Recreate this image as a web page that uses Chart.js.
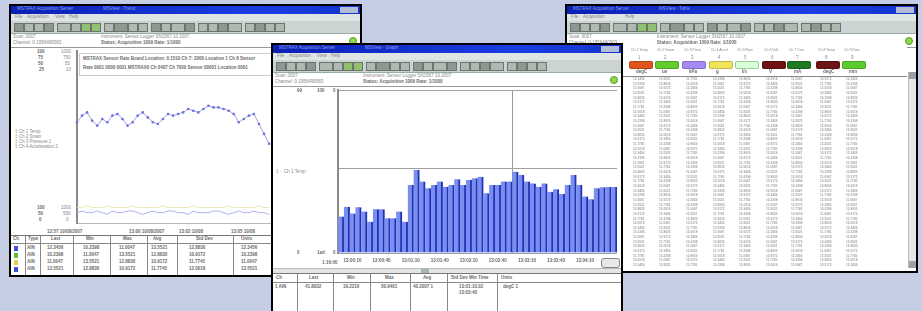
<!DOCTYPE html>
<html>
<head>
<meta charset="utf-8">
<script src="https://cdn.jsdelivr.net/npm/chart.js@4.4.1/dist/chart.umd.min.js"></script>
<style>
  body { margin: 0; width: 922px; height: 311px; background: #c6cee6; overflow: hidden; position: relative;
         font-family: "Liberation Sans", Arial, sans-serif; }
  #stage { position: absolute; left: 0; top: 0; width: 922px; height: 311px; filter: blur(0.6px); }
  .win { position: absolute; background: #fff; border: 2px solid #000; overflow: hidden; }
  .title { position: absolute; left: 0; right: 0; top: 0; height: 8px; background: linear-gradient(90deg, #0b20b4, #1a3ee2 70%, #1434cc); }
  .title span { position: absolute; top: 1px; font-size: 4.5px; color: #8f9ee8; white-space: nowrap; line-height: 1; }
  .title .btns { position: absolute; right: 2px; top: 1px; width: 18px; height: 6px; background: #b4bcd6; }
  .menu { position: absolute; left: 0; right: 0; top: 8px; height: 7px; background: #dfe4e4; }
  .menu span { position: absolute; top: 1px; font-size: 4.5px; color: #888; line-height: 1; }
  .tool { position: absolute; left: 0; right: 0; top: 15px; height: 12px; background: #cbd4d2; border-bottom: 1px solid #9aa; }
  .tb { position: absolute; top: 2px; height: 7px; border: 1px solid #6c7470; }
  .info { position: absolute; left: 0; right: 0; top: 28px; height: 13px; background: #fff; border-bottom: 1px solid #999; }
  .t { position: absolute; font-size: 4.5px; color: #888; white-space: nowrap; line-height: 1; }
  .b { font-weight: bold; color: #6a6a6a; }
  .dot { position: absolute; width: 6px; height: 6px; border-radius: 50%; background: #8fd848; border: 1px solid #5a9a30; }
  .box { position: absolute; }
  .vl { position: absolute; width: 1px; background: #888; }
  .hl { position: absolute; height: 1px; background: #888; }
</style>
</head>
<body>
<div id="stage">

  <!-- left window: trend view -->
  <div class="win" id="winLeft" style="left:9px; top:4px; width:349px; height:269px; z-index:1;">
    <div class="title"><span style="left:6px;">MSTRAX Acquisition Server</span><span style="left:92px;">MSView - Trend</span><div class="btns"></div></div>
    <div class="menu"><span style="left:4px;">File</span><span style="left:16px;">Acquisition</span><span style="left:44px;">View</span><span style="left:58px;">Help</span></div>
    <div class="tool" id="toolLeft"></div>
    <div class="info">
      <span class="t" style="left:2px; top:1px;">Scan: 0007</span>
      <span class="t" style="left:2px; top:7px;">Channel: 0-1956490583</span>
      <span class="t" style="left:90px; top:1px;">Instrument: Sensor Logger SN1567 10 2007</span>
      <span class="t b" style="left:90px; top:7px;">Status: Acquisition 1009  Rate: 1/1000</span>
      <div class="dot" style="left:338px; top:3px;"></div>
    </div>
    <span class="t b" style="left:26px; top:44px;">100</span><span class="t" style="left:50px; top:44px;">1000</span>
    <span class="t b" style="left:27px; top:50px;">75</span><span class="t" style="left:52px; top:50px;">750</span>
    <span class="t b" style="left:27px; top:56px;">50</span><span class="t" style="left:54px; top:56px;">50</span>
    <span class="t b" style="left:28px; top:62px;">25</span><span class="t" style="left:55px; top:62px;">10</span>
    <span class="t" style="left:4px; top:124px;">&#8225; Ch 1 Temp</span>
    <span class="t" style="left:4px; top:129px;">&#8225; Ch 2 Strain</span>
    <span class="t" style="left:4px; top:134px;">&#8225; Ch 3 Pressure 1</span>
    <span class="t" style="left:4px; top:139px;">&#8225; Ch 4 Acceleration 2</span>
    <span class="t b" style="left:26px; top:200px;">100</span><span class="t" style="left:50px; top:200px;">1000</span>
    <span class="t b" style="left:27px; top:206px;">50</span><span class="t" style="left:52px; top:206px;">500</span>
    <span class="t b" style="left:28px; top:212px;">0</span><span class="t" style="left:55px; top:212px;">0</span>
    <div class="box" style="left:49px; top:41px; width:300px; height:181px;"><canvas id="lineChart"></canvas></div>
    <div class="box" style="left:68px; top:47px; width:290px; height:21px; border:1px solid #ccc; background:#fff;">
      <span class="t b" style="left:3px; top:3px;">MSTRAX Sensor Rate  Board Location: 0.1510  Ch 7: 2000 Location 1  Ch 8 Sensor</span>
      <span class="t b" style="left:3px; top:12px;">Rate 0001 0000 0001  MSTRAX0  Ch 0407 Ch  7000 Sensor 00001 Location 0001</span>
    </div>
    <span class="t b" style="left:36px; top:224px;">12:57 10/08/2007</span>
    <span class="t b" style="left:118px; top:224px;">13:00 10/08/2007</span>
    <span class="t b" style="left:168px; top:224px;">13:02 10/08</span>
    <span class="t b" style="left:220px; top:224px;">13:05 10/08</span>
    <div id="tableLeft"></div>
  </div>

  <!-- right window: data table view -->
  <div class="win" id="winRight" style="left:565px; top:4px; width:349px; height:265px; z-index:2;">
    <div class="title"><span style="left:6px;">MSTRAX Acquisition Server</span><span style="left:92px;">MSView - Table</span><div class="btns"></div></div>
    <div class="menu"><span style="left:4px;">File</span><span style="left:16px;">Acquisition</span><span style="left:58px;">Help</span></div>
    <div class="tool" id="toolRight"></div>
    <div class="info">
      <span class="t" style="left:2px; top:1px;">Scan: 0007</span>
      <span class="t" style="left:2px; top:7px;">Channel: 0-1956490583</span>
      <span class="t" style="left:90px; top:1px;">Instrument: Sensor Logger SN1567 10 2007</span>
      <span class="t b" style="left:90px; top:7px;">Status: Acquisition 1009  Rate: 1/1000</span>
      <div class="dot" style="left:338px; top:3px;"></div>
    </div>
    <div id="tableRight"></div>
    <div class="box" style="left:341px; top:66px; width:7px; height:196px; background:#e4e6e8; border-left:1px solid #bbb;">
      <div class="box" style="left:0; top:0; width:7px; height:7px; background:#9aa0a8;"></div>
      <div class="box" style="left:0; top:189px; width:7px; height:7px; background:#9aa0a8;"></div>
    </div>
  </div>

  <!-- center window: bar graph view -->
  <div class="win" id="winCenter" style="left:271px; top:43px; width:348px; height:280px; z-index:3;">
    <div class="title"><span style="left:6px;">MSTRAX Acquisition Server</span><span style="left:92px;">MSView - Graph</span><div class="btns"></div></div>
    <div class="menu"><span style="left:4px;">File</span><span style="left:16px;">Acquisition</span><span style="left:44px;">View</span><span style="left:58px;">Help</span></div>
    <div class="tool" id="toolCenter"></div>
    <div class="info">
      <span class="t" style="left:2px; top:1px;">Scan: 0007</span>
      <span class="t" style="left:2px; top:7px;">Channel: 0-1956490583</span>
      <span class="t" style="left:90px; top:1px;">Instrument: Sensor Logger SN1567 10 2007</span>
      <span class="t b" style="left:90px; top:7px;">Status: Acquisition 1009  Rate: 1/1000</span>
      <div class="dot" style="left:337px; top:3px;"></div>
    </div>
    <div class="box" style="left:1px; top:42px; width:347px; height:183px;"><canvas id="barChart"></canvas></div>
    <span class="t b" style="left:24px; top:44px;">99</span><span class="t b" style="left:44px; top:44px;">100</span><span class="t b" style="left:60px; top:44px;">0</span>
    <span class="t" style="left:3px; top:125px;">&#8225; &middot;&middot; Ch 1 Temp</span>
    <span class="t b" style="left:24px; top:206px;">0</span><span class="t b" style="left:44px; top:206px;">1ad</span><span class="t b" style="left:60px; top:206px;">0</span>
    <span class="t b" style="left:49px; top:216px;">1:16:00</span>
    <div class="box" style="left:328px; top:213px; width:17px; height:8px; border:1px solid #888; border-radius:3px; background:#e6e8ea;"></div>
    <div class="box" style="left:0; top:223px; width:348px; height:5px; background:#e2e6e6; border-top:1px solid #bbb;">
      <div class="box" style="left:148px; top:0; width:8px; height:4px; background:#a8b0b0;"></div>
    </div>
    <div id="tableCenter"></div>
  </div>

</div>
<script>
// ---------------------------------------------------------------
// data
// ---------------------------------------------------------------

// center window: bar heights (percent of the graph height)
const barValues = [22.4, 28.4, 24.3, 28.0, 25.4, 19.2, 26.8, 26.8, 21.3, 21.3, 25.4, 19.2,
                   41.7, 50.9, 43.8, 39.7, 41.7, 43.8, 40.7, 41.7, 45.2, 41.7, 44.8, 45.8,
                   46.8, 36.6, 41.7, 41.7, 43.8, 43.8, 49.9, 47.9, 43.8, 42.7, 40.7, 42.7,
                   37.6, 39.1, 36.2, 41.7, 47.9, 41.7, 34.6, 32.9, 39.7, 40.3, 40.5, 40.5];
const barTickLabels = ['13:00:10', '13:00:40', '13:01:10', '13:01:40', '13:02:10',
                       '13:02:40', '13:03:10', '13:03:40', '13:04:10'];
const barGridValues = [0, 52, 100];

// left window: trend line (visible part only) and the two faint lower traces
const trendValues = [58.6, 62.4, 64.3, 59.5, 56.6, 60.5, 58.6, 62.4, 63.4, 60.5, 56.6, 58.6, 62.4,
                     64.3, 61.4, 58.6, 57.6, 60.5, 63.4, 62.4, 63.4, 64.3, 66.3, 65.3, 64.3, 66.3,
                     68.2, 67.2, 67.2, 66.3, 65.3, 63.4, 58.6, 60.5, 62.4, 63.4, 57.6, 51.8, 46.1];
const lowTraceA = [6, 7, 6, 6, 7, 6, 5, 7, 6, 6, 7, 7, 6, 5, 6, 7, 6, 6, 7, 7, 6, 6, 5, 7, 6, 6,
                   6, 7, 7, 6, 5, 6, 7, 6, 6, 7, 6, 6, 5];
const lowTraceB = [9, 9, 10, 9, 9, 9, 10, 9, 9, 9, 9, 10, 9, 9, 9, 9, 9, 10, 9, 9, 9, 9, 9, 10, 9, 9,
                   9, 9, 9, 9, 10, 9, 9, 9, 9, 9, 10, 9, 9];
const trendSlots = 56;

// right window: channel columns
const channelNames = ['Ch 1 Temp', 'Ch 2 Strain', 'Ch 3 Press', 'Ch 4 Accel', 'Ch 5 Flow',
                      'Ch 6 Volt', 'Ch 7 Curr', 'Ch 8 Temp', 'Ch 9 Disp'];
const channelColors = ['#e0541e', '#62cc2e', '#a48af2', '#f2e45a', '#d8ffd8',
                       '#6e1212', '#1e7a22', '#6e1414', '#5acc30'];
const channelUnits = ['degC', 'ue', 'kPa', 'g', 'l/s', 'V', 'mA', 'degC', 'mm'];
const sampleCells = ['12.3456', '10.2398', '11.0047', '13.5521', '12.8830', '10.9172', '11.7745', '12.0018'];

// ---------------------------------------------------------------
// window chrome (toolbars and small tables)
// ---------------------------------------------------------------
function buildToolbar(id) {
    const el = document.getElementById(id);
    let x = 3;
    for (let i = 0; i < 24; i++) {
        const b = document.createElement('div');
        b.className = 'tb';
        const w = (i % 5 === 4) ? 12 : 8;
        b.style.left = x + 'px';
        b.style.width = w + 'px';
        b.style.background = (i === 6 || i === 7) ? '#8fc070' : (i % 3 === 0 ? '#8e9890' : '#b0b8b2');
        el.appendChild(b);
        x += w + (i % 4 === 3 ? 5 : 2);
    }
}
['toolLeft', 'toolCenter', 'toolRight'].forEach(buildToolbar);

function addText(parent, txt, left, top, bold) {
    const s = document.createElement('span');
    s.className = 't' + (bold ? ' b' : '');
    s.textContent = txt;
    s.style.left = left + 'px';
    s.style.top = top + 'px';
    parent.appendChild(s);
    return s;
}
function addLine(parent, cls, left, top, size) {
    const d = document.createElement('div');
    d.className = cls;
    d.style.left = left + 'px';
    d.style.top = top + 'px';
    if (cls === 'vl') d.style.height = size + 'px'; else d.style.width = size + 'px';
    parent.appendChild(d);
}

// left window bottom table
(function () {
    const t = document.getElementById('tableLeft');
    t.className = 'box';
    t.style.cssText = 'position:absolute;left:0;top:229px;width:349px;height:40px;background:#fff;border-top:1px solid #777;';
    [14, 29, 62, 99, 136, 166, 222].forEach(x => addLine(t, 'vl', x, 0, 40));
    addLine(t, 'hl', 0, 7, 349);
    const heads = ['Ch', 'Type', 'Last', 'Min', 'Max', 'Avg', 'Std Dev', 'Units'];
    const hx = [2, 17, 40, 75, 112, 142, 185, 230];
    heads.forEach((h, i) => addText(t, h, hx[i], 1, true));
    const marks = ['#4050d8', '#60c040', '#e8d040', '#4050d8'];
    for (let r = 0; r < 4; r++) {
        const m = document.createElement('div');
        m.className = 'box';
        m.style.cssText = 'left:3px;top:' + (10 + r * 7) + 'px;width:4px;height:5px;background:' + marks[r];
        t.appendChild(m);
        const row = [sampleCells[r], sampleCells[r + 1], sampleCells[r + 2], sampleCells[r + 3], sampleCells[r + 4], sampleCells[r]];
        addText(t, 'AIN', 16, 10 + r * 7, true);
        row.forEach((v, i) => addText(t, v, [36, 72, 108, 140, 178, 230][i], 10 + r * 7, true));
    }
})();

// center window bottom table
(function () {
    const t = document.getElementById('tableCenter');
    t.style.cssText = 'position:absolute;left:0;top:228px;width:348px;height:52px;background:#fff;border-top:1px solid #777;';
    [24, 60, 97, 137, 174, 224].forEach(x => addLine(t, 'vl', x, 0, 52));
    addLine(t, 'hl', 0, 8, 348);
    ['Ch', 'Last', 'Min', 'Max', 'Avg', 'Std Dev  Min Time', 'Units'].forEach((h, i) =>
        addText(t, h, [3, 36, 74, 112, 150, 178, 228][i], 2, true));
    addText(t, '1  AIN', 2, 11, true);
    addText(t, '41.8932', 32, 11, true);
    addText(t, '19.2210', 70, 11, true);
    addText(t, '50.9401', 108, 11, true);
    addText(t, '40.2007 1', 140, 11, true);
    addText(t, '13:01:10.02', 186, 11, true);
    addText(t, '13:03:40', 186, 17, true);
    addText(t, 'degC 1', 230, 11, true);
})();

// right window header + table
(function () {
    const t = document.getElementById('tableRight');
    t.style.cssText = 'position:absolute;left:0;top:41px;width:340px;height:224px;background:#fff;';
    const cx = [73, 99, 126, 153, 179, 206, 231, 260, 286];
    channelNames.forEach((n, i) => {
        addText(t, n, cx[i] - 9, 2, false).style.fontSize = '3.5px';
        addText(t, String(i + 1), cx[i] - 2, 9, false);
        const sw = document.createElement('div');
        sw.className = 'box';
        sw.style.cssText = 'left:' + (cx[i] - 11) + 'px;top:14px;width:22px;height:6px;border-radius:2px;background:' +
            channelColors[i] + ';border:1px solid ' + (i === 4 ? '#9c9' : 'rgba(0,0,0,0.2)');
        t.appendChild(sw);
        addText(t, channelUnits[i], cx[i] - 4, 23, true);
    });
    addLine(t, 'hl', 40, 29, 300);
    for (let r = 0; r < 41; r++) {
        cx.forEach((x, i) => {
            const v = sampleCells[(r + i * 3) % sampleCells.length];
            const s = document.createElement('span');
            s.className = 't b';
            s.textContent = v;
            s.style.cssText = 'left:' + (x - 7) + 'px;top:' + (31 + r * 4.65) + 'px;font-size:3.2px;color:#a4a4a4;';
            t.appendChild(s);
        });
    }
})();

// ---------------------------------------------------------------
// center window: bar graph
// ---------------------------------------------------------------
const barLabels = barValues.map((v, i) => 'S' + (i + 1));

new Chart(document.getElementById('barChart').getContext('2d'), {
    type: 'bar',
    data: {
        labels: barLabels,
        datasets: [{
            data: barValues,
            backgroundColor: '#7a8ef2',
            borderColor: '#2232b4',
            borderWidth: { top: 0, left: 0, bottom: 0, right: 2 },
            borderSkipped: false,
            barPercentage: 1,
            categoryPercentage: 1
        }]
    },
    options: {
        responsive: true,
        maintainAspectRatio: false,
        animation: false,
        layout: { padding: { top: 3, right: 4 } },
        plugins: { legend: { display: false }, tooltip: { enabled: false } },
        scales: {
            x: {
                afterFit: s => { s.height = 17; },
                grid: {
                    drawTicks: false,
                    color: ctx => ctx.index === 30 ? '#9a9a9a' : 'rgba(0,0,0,0)'
                },
                border: { display: false },
                ticks: {
                    autoSkip: false,
                    maxRotation: 0,
                    padding: 5,
                    color: '#666',
                    font: { size: 4.5, weight: 'bold', family: 'Liberation Sans' },
                    callback: (v, i) => (i % 5 === 2 && i < 45) ? barTickLabels[(i - 2) / 5] : ''
                }
            },
            y: {
                min: 0,
                max: 100,
                afterFit: s => { s.width = 64; },
                afterBuildTicks: s => { s.ticks = barGridValues.map(v => ({ value: v })); },
                ticks: { display: false },
                grid: { color: '#a0a0a0', drawTicks: false },
                border: { display: true, color: '#8a8a8a', width: 2 }
            }
        }
    }
});

// ---------------------------------------------------------------
// left window: trend graph
// ---------------------------------------------------------------
const trendLabels = Array.from({ length: trendSlots }, (v, i) => 'T' + i);

new Chart(document.getElementById('lineChart').getContext('2d'), {
    type: 'line',
    data: {
        labels: trendLabels,
        datasets: [
            {
                data: trendValues,
                borderColor: '#9ca2ee',
                borderWidth: 1,
                pointRadius: 1.3,
                pointBackgroundColor: '#6a70dc',
                pointBorderWidth: 0,
                tension: 0
            },
            {
                data: lowTraceB,
                borderColor: '#ece6b4',
                borderWidth: 1,
                pointRadius: 0,
                tension: 0
            },
            {
                data: lowTraceA,
                borderColor: '#aab2ec',
                borderWidth: 1,
                pointRadius: 0,
                tension: 0
            }
        ]
    },
    options: {
        responsive: true,
        maintainAspectRatio: false,
        animation: false,
        layout: { padding: { top: 3, right: 5 } },
        plugins: { legend: { display: false }, tooltip: { enabled: false } },
        scales: {
            x: {
                afterFit: s => { s.height = 5; },
                ticks: { display: false },
                grid: { display: false },
                border: { display: true, color: '#b8b8b8' }
            },
            y: {
                min: 0,
                max: 100,
                afterFit: s => { s.width = 17; },
                ticks: { display: false },
                grid: { display: false },
                border: { display: true, color: '#8a8a8a', width: 2 }
            }
        }
    }
});
</script>
</body>
</html>
